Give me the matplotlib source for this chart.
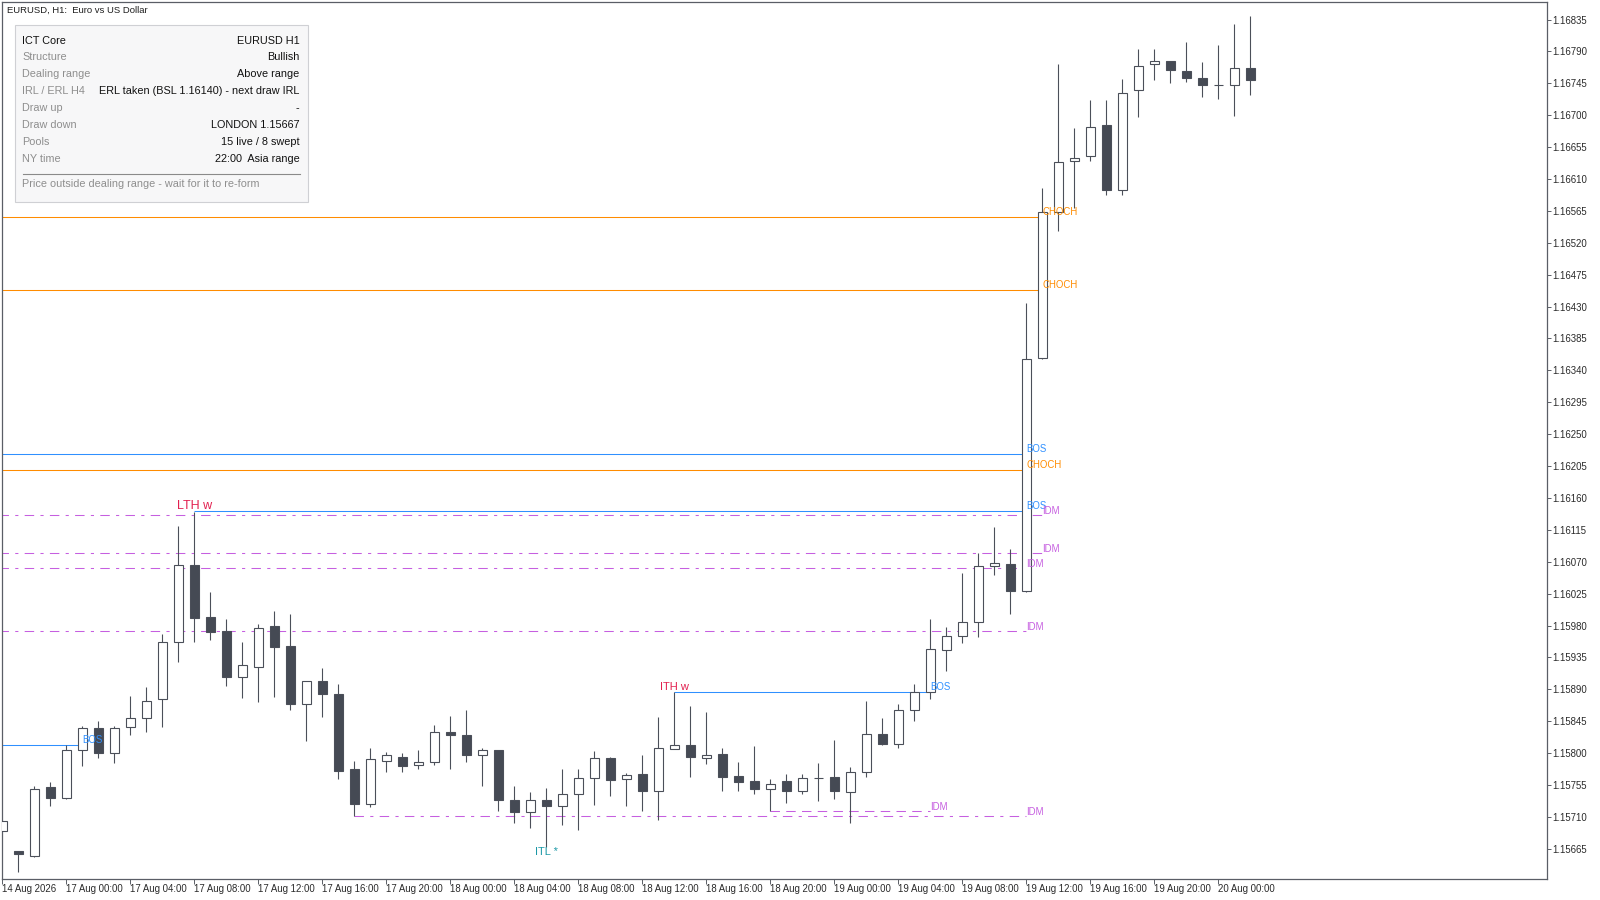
import matplotlib
matplotlib.use("Agg")
import matplotlib.pyplot as plt
from matplotlib.patches import Rectangle
from matplotlib.lines import Line2D
import numpy as np

plt.rcParams['font.family'] = ['Liberation Sans', 'DejaVu Sans']

# ---------------- data ----------------
opens = [1.15690, 1.15662, 1.15655, 1.15752, 1.15737, 1.15804, 1.15835, 1.15800, 1.15837, 1.15849,
         1.15876, 1.15957, 1.16065, 1.15992, 1.15972, 1.15907, 1.15922, 1.15980, 1.15951, 1.15870,
         1.15902, 1.15884, 1.15777, 1.15728, 1.15789, 1.15794, 1.15784, 1.15787, 1.15830, 1.15825,
         1.15798, 1.15804, 1.15734, 1.15717, 1.15734, 1.15725, 1.15743, 1.15765, 1.15793, 1.15763,
         1.15770, 1.15746, 1.15806, 1.15812, 1.15793, 1.15799, 1.15768, 1.15761, 1.15749, 1.15761,
         1.15746, 1.15765, 1.15767, 1.15745, 1.15774, 1.15827, 1.15813, 1.15861, 1.15886, 1.15945,
         1.15965, 1.15985, 1.16064, 1.16067, 1.16029, 1.16357, 1.16564, 1.16635, 1.16642, 1.16686,
         1.16595, 1.16735, 1.16772, 1.16776, 1.16763, 1.16752, 1.16742, 1.16742, 1.16766]
highs = [1.15705, 1.15662, 1.15753, 1.15760, 1.15811, 1.15838, 1.15845, 1.15839, 1.15880, 1.15893,
         1.15968, 1.16120, 1.16140, 1.16027, 1.15989, 1.15957, 1.15982, 1.16000, 1.15996, 1.15902,
         1.15920, 1.15897, 1.15789, 1.15807, 1.15801, 1.15800, 1.15805, 1.15840, 1.15853, 1.15861,
         1.15807, 1.15804, 1.15753, 1.15745, 1.15751, 1.15778, 1.15778, 1.15803, 1.15795, 1.15772,
         1.15798, 1.15851, 1.15886, 1.15867, 1.15858, 1.15807, 1.15788, 1.15810, 1.15764, 1.15771,
         1.15771, 1.15786, 1.15819, 1.15780, 1.15874, 1.15850, 1.15869, 1.15898, 1.15989, 1.15978,
         1.16054, 1.16083, 1.16119, 1.16088, 1.16435, 1.16598, 1.16772, 1.16682, 1.16721, 1.16721,
         1.16751, 1.16793, 1.16793, 1.16776, 1.16803, 1.16775, 1.16799, 1.16829, 1.16840]
lows = [1.15690, 1.15633, 1.15654, 1.15726, 1.15736, 1.15782, 1.15793, 1.15786, 1.15825, 1.15830,
        1.15837, 1.15929, 1.15957, 1.15960, 1.15895, 1.15878, 1.15872, 1.15879, 1.15861, 1.15817,
        1.15851, 1.15764, 1.15711, 1.15724, 1.15774, 1.15774, 1.15778, 1.15784, 1.15778, 1.15788,
        1.15753, 1.15718, 1.15701, 1.15695, 1.15668, 1.15698, 1.15692, 1.15727, 1.15739, 1.15726,
        1.15719, 1.15706, 1.15806, 1.15767, 1.15785, 1.15746, 1.15746, 1.15742, 1.15719, 1.15730,
        1.15743, 1.15733, 1.15736, 1.15702, 1.15767, 1.15811, 1.15808, 1.15846, 1.15876, 1.15916,
        1.15956, 1.15964, 1.16051, 1.15997, 1.16027, 1.16356, 1.16537, 1.16569, 1.16636, 1.16587,
        1.16588, 1.16697, 1.16749, 1.16746, 1.16747, 1.16725, 1.16723, 1.16699, 1.16728]
closes = [1.15705, 1.15658, 1.15750, 1.15737, 1.15804, 1.15835, 1.15800, 1.15835, 1.15849, 1.15874,
          1.15957, 1.16066, 1.15991, 1.15971, 1.15908, 1.15925, 1.15977, 1.15950, 1.15870, 1.15902,
          1.15884, 1.15775, 1.15728, 1.15792, 1.15797, 1.15782, 1.15787, 1.15830, 1.15825, 1.15797,
          1.15804, 1.15734, 1.15717, 1.15734, 1.15725, 1.15742, 1.15765, 1.15793, 1.15762, 1.15769,
          1.15747, 1.15808, 1.15811, 1.15794, 1.15798, 1.15767, 1.15760, 1.15750, 1.15756, 1.15746,
          1.15765, 1.15765, 1.15746, 1.15774, 1.15827, 1.15813, 1.15861, 1.15886, 1.15947, 1.15965,
          1.15985, 1.16064, 1.16068, 1.16029, 1.16356, 1.16563, 1.16634, 1.16639, 1.16684, 1.16594,
          1.16732, 1.16770, 1.16776, 1.16764, 1.16752, 1.16742, 1.16742, 1.16766, 1.16750]

time_tick_bars = [0, 4, 8, 12, 16, 20, 24, 28, 32, 36, 40, 44, 48, 52, 56, 60, 64, 68, 72, 76]
time_tick_labels = ["14 Aug 2026", "17 Aug 00:00", "17 Aug 04:00", "17 Aug 08:00", "17 Aug 12:00",
                    "17 Aug 16:00", "17 Aug 20:00", "18 Aug 00:00", "18 Aug 04:00", "18 Aug 08:00",
                    "18 Aug 12:00", "18 Aug 16:00", "18 Aug 20:00", "19 Aug 00:00", "19 Aug 04:00",
                    "19 Aug 08:00", "19 Aug 12:00", "19 Aug 16:00", "19 Aug 20:00", "20 Aug 00:00"]

# structure levels: price, start bar (-1 = off chart), end bar (label bar), kind
level_prices = [1.16557, 1.16453, 1.16200, 1.16222, 1.16141, 1.15886, 1.15812,
                1.16136, 1.16083, 1.16061, 1.15973, 1.15711, 1.15719]
level_start = [-1, -1, -1, -1, 12, 42, -1, -1, -1, -1, -1, 22, 48]
level_end = [65, 65, 64, 64, 64, 58, 5, 65, 65, 64, 64, 64, 58]
level_kind = ["CHOCH", "CHOCH", "CHOCH", "BOS", "BOS", "BOS", "BOS",
              "IDM", "IDM", "IDM", "IDM", "IDM", "IDM2"]

# liquidity pool labels: text, bar, price
pool_text = ["LTH w", "ITH w", "ITL *"]
pool_bar = [12, 42, 34]
pool_price = [1.16140, 1.15886, 1.15668]

panel_labels = ["ICT Core", "Structure", "Dealing range", "IRL / ERL H4", "Draw up",
                "Draw down", "Pools", "NY time"]
panel_values = ["EURUSD H1", "Bullish", "Above range", "ERL taken (BSL 1.16140) - next draw IRL",
                "-", "LONDON 1.15667", "15 live / 8 swept", "22:00  Asia range"]
panel_footer = "Price outside dealing range - wait for it to re-form"
chart_title = "EURUSD, H1:  Euro vs US Dollar"

y_ticks = [1.15665, 1.15710, 1.15755, 1.15800, 1.15845, 1.15890, 1.15935, 1.15980, 1.16025,
           1.16070, 1.16115, 1.16160, 1.16205, 1.16250, 1.16295, 1.16340, 1.16385, 1.16430,
           1.16475, 1.16520, 1.16565, 1.16610, 1.16655, 1.16700, 1.16745, 1.16790, 1.16835]

# ---------------- styles ----------------
W, H = 1600, 900
PX = 0.72  # one pixel in points
C_CANDLE = '#4b4f59'
C_DARK = '#454a54'
C_ORANGE = '#ff8c00'
C_BLUE = '#2f90ff'
C_MAG = '#c65fe0'
C_RED = '#e2204f'
C_TEAL = '#1b98a6'
C_FRAME = '#5a5e66'

style = {
    "CHOCH": dict(color=C_ORANGE, ls='-', dy=0.0),
    "BOS": dict(color=C_BLUE, ls='-', dy=0.0),
    "IDM": dict(color=C_MAG, ls=(0, (9, 6, 3, 6)), dy=-0.000015),
    "IDM2": dict(color=C_MAG, ls=(0, (9, 6)), dy=-0.000015),
}
label_text = {"CHOCH": "CHOCH", "BOS": "BOS", "IDM": "IDM", "IDM2": "IDM"}

fig = plt.figure(figsize=(W / 100, H / 100), dpi=100)
fig.patch.set_facecolor('white')
ax = fig.add_axes([2 / W, (H - 879) / H, (1547 - 2) / W, (879 - 2) / H])
ax.set_facecolor('white')

x_left = (2 - 2.3) / 16
x_right = (1547 - 2.3) / 16
ax.set_xlim(x_left, x_right)
ax.set_ylim(1.156225, 1.168597)

# levels
for p, s, e, k in zip(level_prices, level_start, level_end, level_kind):
    st = style[k]
    xs = x_left - 1 if s < 0 else s
    ax.plot([xs, e], [p, p], color=st["color"], ls=st["ls"], lw=PX * 1.05, zorder=2,
            solid_capstyle='butt', dash_capstyle='butt')
    ax.text(e, p + st["dy"], label_text[k], color=st["color"], fontsize=6.9, ha='left',
            va='bottom', zorder=6, clip_on=False)

# candles
body_w = 0.58
for i, (o, h, l, c) in enumerate(zip(opens, highs, lows, closes)):
    ax.plot([i, i], [l, h], color=C_CANDLE, lw=PX * 1.1, zorder=3, solid_capstyle='butt')
    bull = c >= o
    bot = min(o, c)
    hgt = abs(c - o)
    ax.add_patch(Rectangle((i - body_w / 2, bot), body_w, hgt,
                           facecolor='white' if bull else C_DARK,
                           edgecolor=C_CANDLE, lw=PX * 1.1, zorder=4))

# pool labels
ax.text(pool_bar[0], pool_price[0], pool_text[0], color=C_RED, fontsize=9, ha='center',
        va='bottom', zorder=6)
ax.text(pool_bar[1], pool_price[1], pool_text[1], color=C_RED, fontsize=8, ha='center',
        va='bottom', zorder=6)
ax.text(pool_bar[2], pool_price[2], pool_text[2], color=C_TEAL, fontsize=8, ha='center',
        va='top', zorder=6)

# axes
for sp in ax.spines.values():
    sp.set_color(C_FRAME)
    sp.set_linewidth(0.9)
ax.yaxis.tick_right()
ax.set_yticks(y_ticks)
ax.set_yticklabels([f"{v:.5f}" for v in y_ticks])
ax.tick_params(axis='y', direction='out', length=3.0, width=0.7, pad=1.0, labelsize=6.9,
               colors=C_FRAME, labelcolor='#2a2a2a')
ax.set_xticks(time_tick_bars)
ax.set_xticklabels(time_tick_labels, ha='left')
ax.tick_params(axis='x', direction='out', length=3.5, width=0.7, pad=0.3, labelsize=6.9,
               colors=C_FRAME, labelcolor='#2a2a2a')

# title
fig.text(7 / W, 1 - 10 / H, chart_title, fontsize=6.8, color='#1e1e1e', va='center', ha='left')

# info panel
fig.add_artist(Rectangle((15 / W, 1 - 202 / H), (308 - 15) / W, (202 - 25) / H,
                         transform=fig.transFigure, facecolor='#f7f7f8', edgecolor='#cfd0d4',
                         lw=0.8, zorder=10))
row_y = [40.7, 57.3, 74.0, 91.3, 108.3, 125.3, 142.3, 159.3]
for j, (lab, val) in enumerate(zip(panel_labels, panel_values)):
    fig.text(22.5 / W, 1 - row_y[j] / H, lab, fontsize=7.8,
             color='#111111' if j == 0 else '#8e8e8e', va='center', ha='left', zorder=11)
    fig.text(299.5 / W, 1 - row_y[j] / H, val, fontsize=7.8, color='#111111',
             va='center', ha='right', zorder=11)
fig.add_artist(Line2D([22.5 / W, 299.5 / W], [1 - 174 / H, 1 - 174 / H], transform=fig.transFigure,
                      color='#8a8a8a', lw=0.8, zorder=11))
fig.text(22.5 / W, 1 - 184 / H, panel_footer, fontsize=7.8, color='#8e8e8e', va='center',
         ha='left', zorder=11)

fig.savefig('out.png', dpi=100)
